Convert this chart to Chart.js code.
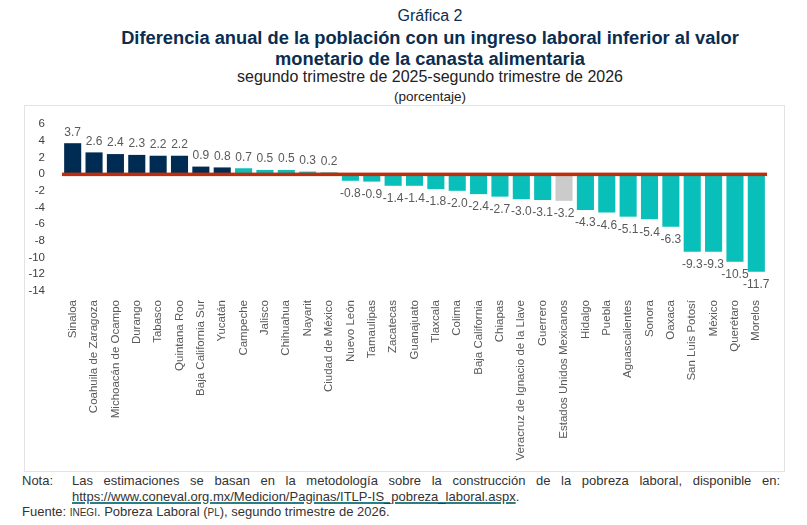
<!DOCTYPE html>
<html>
<head>
<meta charset="utf-8">
<script src="https://cdn.jsdelivr.net/npm/chart.js@4/dist/chart.umd.min.js"></script>
<style>
  body { margin: 0; background: #fff; font-family: "Liberation Sans", Arial, sans-serif; overflow: hidden; }
  .page { position: relative; width: 807px; height: 525px; }
  .hdr { position: absolute; left: 53px; width: 754px; text-align: center; white-space: nowrap; }
  .num { top: 7px; font-size: 16px; color: #0b2d4f; }
  .tit { top: 27px; font-size: 18.3px; font-weight: bold; color: #0b2d4f; line-height: 21px; }
  .sub { top: 68px; font-size: 16px; color: #222; }
  .pct { top: 89px; font-size: 13.5px; color: #222; }
  .box { position: absolute; left: 24px; top: 105px; width: 761px; height: 367px; border: 1px solid #e3e3e3; box-sizing: border-box; }
  .notas { position: absolute; left: 22px; top: 473px; width: 758px; font-size: 13px; color: #333; line-height: 15.5px; }
  .row { display: flex; }
  .lbl { width: 50px; flex: none; }
  .txt { flex: 1; text-align: justify; text-align-last: left; }
  .txt a { color: #333; text-decoration: underline; text-decoration-color: #2a7f86; text-decoration-thickness: 2px; }
  .sc { font-size: 10px; }
</style>
</head>
<body>
<div class="page">
  <div class="hdr num">Gráfica 2</div>
  <div class="hdr tit">Diferencia anual de la población con un ingreso laboral inferior al valor<br>monetario de la canasta alimentaria</div>
  <div class="hdr sub">segundo trimestre de 2025-segundo trimestre de 2026</div>
  <div class="hdr pct">(porcentaje)</div>
  <div class="box"><canvas id="grafica"></canvas></div>
  <div class="notas">
    <div class="row"><div class="lbl">Nota:</div><div class="txt">Las estimaciones se basan en la metodología sobre la construcción de la pobreza laboral, disponible en: <a href="#">https://www.coneval.org.mx/Medicion/Paginas/ITLP-IS_pobreza_laboral.aspx</a>.</div></div>
    <div>Fuente: <span class="sc">INEGI</span>. Pobreza Laboral (<span class="sc">PL</span>), segundo trimestre de 2026.</div>
  </div>
</div>
<script>
// entidades y diferencia anual (puntos porcentuales)
const entidades = ['Sinaloa', 'Coahuila de Zaragoza', 'Michoacán de Ocampo', 'Durango', 'Tabasco',
  'Quintana Roo', 'Baja California Sur', 'Yucatán', 'Campeche', 'Jalisco', 'Chihuahua', 'Nayarit',
  'Ciudad de México', 'Nuevo León', 'Tamaulipas', 'Zacatecas', 'Guanajuato', 'Tlaxcala', 'Colima',
  'Baja California', 'Chiapas', 'Veracruz de Ignacio de la Llave', 'Guerrero', 'Estados Unidos Mexicanos',
  'Hidalgo', 'Puebla', 'Aguascalientes', 'Sonora', 'Oaxaca', 'San Luis Potosí', 'México', 'Querétaro', 'Morelos'];
const diferencia = [3.7, 2.6, 2.4, 2.3, 2.2, 2.2, 0.9, 0.8, 0.7, 0.5, 0.5, 0.3, 0.2, -0.8, -0.9, -1.4, -1.4,
  -1.8, -2.0, -2.4, -2.7, -3.0, -3.1, -3.2, -4.3, -4.6, -5.1, -5.4, -6.3, -9.3, -9.3, -10.5, -11.7];
// grupo de color: 0 = azul, 1 = turquesa, 2 = nacional
const grupo = [0, 0, 0, 0, 0, 0, 0, 0, 1, 1, 1, 1, 1, 1, 1, 1, 1, 1, 1, 1, 1, 1, 1, 2, 1, 1, 1, 1, 1, 1, 1, 1, 1];
const yTicks = [6, 4, 2, 0, -2, -4, -6, -8, -10, -12, -14];

const colores = ['#002c53', '#09bfb9', '#cbcbcb'];

// etiquetas de valor y linea del cero
const etiquetas = {
    id: 'etiquetas',
    afterDatasetsDraw(chart) {
        const ctx = chart.ctx;
        const y = chart.scales.y;
        const area = chart.chartArea;
        const y0 = y.getPixelForValue(0);
        ctx.save();
        ctx.fillStyle = '#be2d0c';
        ctx.fillRect(area.left, y0 - 1.5, area.right - area.left, 3.5);
        ctx.font = '12px "Liberation Sans", Arial, sans-serif';
        ctx.fillStyle = '#595959';
        ctx.textAlign = 'center';
        chart.getDatasetMeta(0).data.forEach((bar, i) => {
            const v = diferencia[i];
            if (v >= 0) {
                ctx.textBaseline = 'bottom';
                ctx.fillText(v.toFixed(1), bar.x, bar.y - 5);
            } else {
                ctx.textBaseline = 'top';
                ctx.fillText(v.toFixed(1), bar.x, bar.y + 7);
            }
        });
        ctx.restore();
    }
};

new Chart(document.getElementById('grafica'), {
    type: 'bar',
    data: {
        labels: entidades,
        datasets: [{
            data: diferencia,
            backgroundColor: grupo.map(g => colores[g]),
            borderWidth: 0,
            categoryPercentage: 1,
            barPercentage: 0.8
        }]
    },
    options: {
        responsive: true,
        maintainAspectRatio: false,
        animation: false,
        layout: { padding: { top: 18, right: 17, bottom: 8, left: 0 } },
        plugins: {
            legend: { display: false },
            tooltip: { enabled: false }
        },
        scales: {
            y: {
                min: -14,
                max: 6,
                afterBuildTicks: s => { s.ticks = yTicks.map(v => ({ value: v })); },
                afterFit: s => { s.width = 37; },
                grid: { display: false },
                border: { display: false },
                ticks: {
                    autoSkip: false,
                    color: '#404040',
                    padding: 9,
                    font: { family: '"Liberation Sans", Arial, sans-serif', size: 11.5 }
                }
            },
            x: {
                afterFit: s => { s.height = 172; },
                grid: { display: false },
                border: { display: false },
                ticks: {
                    autoSkip: false,
                    minRotation: 90,
                    maxRotation: 90,
                    padding: 1,
                    color: '#595959',
                    font: { family: '"Liberation Sans", Arial, sans-serif', size: 11.5 }
                }
            }
        }
    },
    plugins: [etiquetas]
});
</script>
</body>
</html>
